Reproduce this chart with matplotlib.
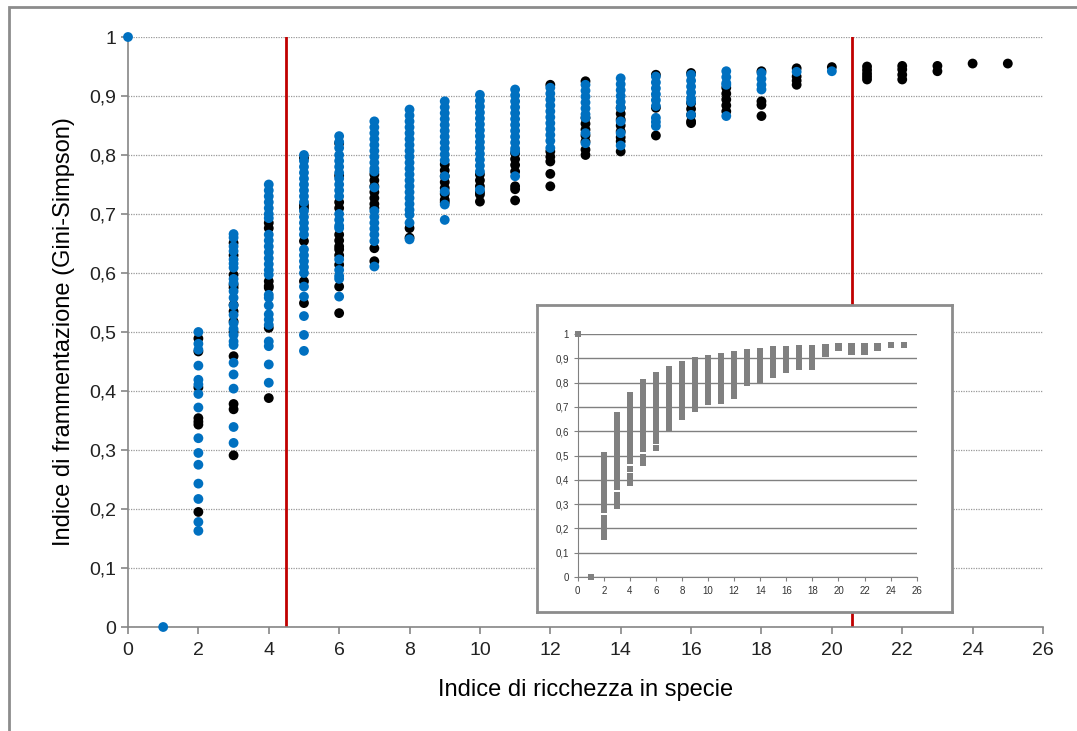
import matplotlib
matplotlib.use("Agg")
import matplotlib.pyplot as plt
from matplotlib.patches import Rectangle

plt.rcParams['font.family'] = ['Liberation Sans', 'DejaVu Sans']

# species richness (x) and Gini-Simpson values
richness = list(range(26))

blue_vals = [
    [1.0],
    [0.0],
    [0.50, 0.48, 0.47, 0.443, 0.419, 0.411, 0.395, 0.372, 0.32, 0.295, 0.275, 0.243, 0.217, 0.178, 0.163],
    [0.666, 0.66, 0.645, 0.637, 0.623, 0.616, 0.609, 0.59, 0.583, 0.569, 0.558, 0.545, 0.529, 0.515, 0.505,
     0.495, 0.484, 0.478, 0.448, 0.428, 0.404, 0.339, 0.312],
    [0.75, 0.74, 0.73, 0.72, 0.71, 0.70, 0.693, 0.665, 0.655, 0.645, 0.635, 0.625, 0.615, 0.605, 0.597,
     0.563, 0.558, 0.545, 0.53, 0.521, 0.512, 0.484, 0.476, 0.445, 0.414],
    [0.80, 0.79, 0.78, 0.77, 0.76, 0.75, 0.74, 0.73, 0.72, 0.705, 0.695, 0.685, 0.675, 0.665, 0.64, 0.63,
     0.62, 0.61, 0.60, 0.577, 0.56, 0.527, 0.495, 0.468],
    [0.832, 0.822, 0.812, 0.80, 0.79, 0.78, 0.77, 0.76, 0.75, 0.74, 0.73, 0.70, 0.69, 0.68, 0.676, 0.623,
     0.605, 0.595, 0.59, 0.56],
    [0.857, 0.847, 0.837, 0.827, 0.817, 0.807, 0.797, 0.787, 0.777, 0.772, 0.745, 0.705, 0.695, 0.685,
     0.675, 0.665, 0.654, 0.611],
    [0.877, 0.867, 0.857, 0.847, 0.837, 0.827, 0.817, 0.807, 0.797, 0.787, 0.777, 0.767, 0.757, 0.747,
     0.737, 0.727, 0.717, 0.707, 0.699, 0.685, 0.657],
    [0.891, 0.881, 0.871, 0.861, 0.851, 0.841, 0.831, 0.821, 0.811, 0.801, 0.791, 0.764, 0.738, 0.716, 0.69],
    [0.902, 0.892, 0.882, 0.872, 0.862, 0.852, 0.842, 0.832, 0.822, 0.812, 0.802, 0.792, 0.782, 0.772, 0.741],
    [0.911, 0.901, 0.891, 0.881, 0.871, 0.861, 0.851, 0.841, 0.831, 0.821, 0.811, 0.806, 0.764],
    [0.914, 0.904, 0.894, 0.884, 0.874, 0.864, 0.854, 0.844, 0.834, 0.824, 0.812],
    [0.919, 0.909, 0.899, 0.889, 0.879, 0.869, 0.863, 0.837, 0.82],
    [0.93, 0.92, 0.91, 0.90, 0.89, 0.88, 0.857, 0.837, 0.816],
    [0.933, 0.923, 0.913, 0.903, 0.893, 0.883, 0.863, 0.856, 0.849],
    [0.936, 0.926, 0.916, 0.906, 0.896, 0.89, 0.868],
    [0.942, 0.932, 0.922, 0.919, 0.866],
    [0.939, 0.929, 0.919, 0.911],
    [0.941],
    [0.942],
    [], [], [], [], [],
]

black_vals = [
    [], [],
    [0.489, 0.467, 0.406, 0.354, 0.348, 0.343, 0.195],
    [0.651, 0.63, 0.597, 0.58, 0.575, 0.546, 0.535, 0.518, 0.50, 0.459, 0.378, 0.369, 0.291],
    [0.685, 0.676, 0.586, 0.578, 0.575, 0.507, 0.388],
    [0.795, 0.715, 0.71, 0.654, 0.586, 0.549],
    [0.82, 0.765, 0.72, 0.71, 0.665, 0.655, 0.645, 0.64, 0.63, 0.614, 0.577, 0.532],
    [0.767, 0.757, 0.747, 0.737, 0.727, 0.717, 0.71, 0.642, 0.62],
    [0.676, 0.66],
    [0.784, 0.774, 0.764, 0.754, 0.744, 0.734, 0.724, 0.72],
    [0.767, 0.757, 0.747, 0.737, 0.733, 0.721],
    [0.803, 0.793, 0.783, 0.772, 0.747, 0.742, 0.723],
    [0.919, 0.806, 0.797, 0.789, 0.768, 0.747],
    [0.925, 0.863, 0.853, 0.843, 0.833, 0.823, 0.809, 0.80],
    [0.88, 0.87, 0.86, 0.85, 0.84, 0.83, 0.823, 0.806],
    [0.936, 0.88, 0.833],
    [0.939, 0.888, 0.878, 0.868, 0.857, 0.854],
    [0.914, 0.904, 0.894, 0.884, 0.874],
    [0.942, 0.891, 0.885, 0.866],
    [0.947, 0.933, 0.926, 0.919],
    [0.949],
    [0.95, 0.944, 0.938, 0.933, 0.928],
    [0.951, 0.945, 0.936, 0.928],
    [0.951, 0.942],
    [0.955],
    [0.955],
]

thresholds = [4.49, 20.56]
y_ticks = [0, 0.1, 0.2, 0.3, 0.4, 0.5, 0.6, 0.7, 0.8, 0.9, 1.0]
y_labels = ['0', '0,1', '0,2', '0,3', '0,4', '0,5', '0,6', '0,7', '0,8', '0,9', '1']
x_ticks = list(range(0, 27, 2))

BLUE = '#0070C0'
GRAY = '#868686'


def flatten(vals):
    xs, ys = [], []
    for x, col in zip(richness, vals):
        xs += [x] * len(col)
        ys += col
    return xs, ys


bx, by = flatten(black_vals)
ux, uy = flatten(blue_vals)

fig = plt.figure(figsize=(10.77, 7.31), dpi=100)

# outer chart-area border
fig.patches.append(Rectangle((9 / 1077, -0.05), 1.2, 1 - 7 / 731 + 0.05, transform=fig.transFigure,
                             fill=False, edgecolor='#8c8c8c', linewidth=2))

ax = fig.add_axes([128 / 1077, 1 - 627 / 731, 915 / 1077, 590 / 731])
ax.set_xlim(0, 26)
ax.set_ylim(0, 1)
ax.set_yticks(y_ticks)
ax.set_yticklabels(y_labels)
ax.set_xticks(x_ticks)
for s in ['top', 'right']:
    ax.spines[s].set_visible(False)
for s in ['left', 'bottom']:
    ax.spines[s].set_color(GRAY)
    ax.spines[s].set_linewidth(1.2)
ax.tick_params(axis='both', colors=GRAY, labelcolor='#222222', labelsize=14, length=5, width=1.2)
ax.tick_params(axis='x', pad=6)
ax.grid(axis='y', linestyle=(0, (1, 1)), color='#999999', linewidth=0.9)
ax.set_axisbelow(True)

ax.scatter(bx, by, s=50, color='black', edgecolors='none', clip_on=False, zorder=3)
ax.scatter(ux, uy, s=50, color=BLUE, edgecolors='none', clip_on=False, zorder=4)
for t in thresholds:
    ax.plot([t, t], [0, 1], color='#C00000', linewidth=2, zorder=2)

ax.set_xlabel('Indice di ricchezza in specie', fontsize=17, labelpad=14)
ax.set_ylabel('Indice di frammentazione (Gini-Simpson)', fontsize=17, labelpad=10)

# inset frame
frame = fig.add_axes([537 / 1077, 1 - 612 / 731, 415 / 1077, 307 / 731], zorder=5)
frame.set_facecolor('white')
frame.set_xticks([])
frame.set_yticks([])
for s in frame.spines.values():
    s.set_color('#8c8c8c')
    s.set_linewidth(2)

ins = fig.add_axes([577.7 / 1077, 1 - 577 / 731, 339 / 1077, 243 / 731], zorder=6)
ins.patch.set_alpha(0)
ins.set_xlim(0, 26)
ins.set_ylim(0, 1)
ins.set_yticks(y_ticks)
ins.set_yticklabels(y_labels)
ins.set_xticks(x_ticks)
for s in ['top', 'right']:
    ins.spines[s].set_visible(False)
for s in ['left', 'bottom']:
    ins.spines[s].set_color('#808080')
ins.tick_params(axis='both', colors='#808080', labelcolor='#333333', labelsize=7, length=3)
ins.grid(axis='y', color='#808080', linewidth=1)
ins.set_axisbelow(True)
ins.scatter(bx + ux, by + uy, s=20, marker='s', color='#808080', edgecolors='none', clip_on=False, zorder=3)

fig.savefig('out.png', dpi=100)
